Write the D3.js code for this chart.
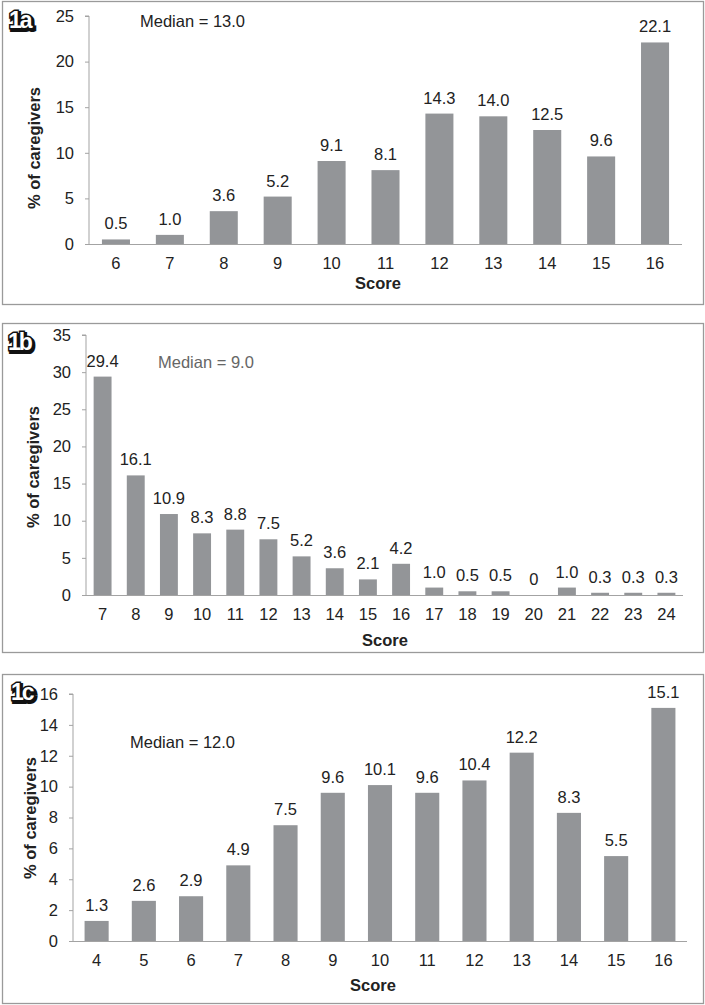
<!DOCTYPE html>
<html>
<head>
<meta charset="utf-8">
<script src="https://cdn.jsdelivr.net/npm/d3@7"></script>
<style>
  html, body { margin: 0; padding: 0; background: #fff; }
  svg { display: block; }
  text { font-family: "Liberation Sans", Arial, sans-serif; }
</style>
</head>
<body>
<svg id="chart" width="705" height="1005"></svg>
<script>
// ---- Data ----
const scoresA = [6, 7, 8, 9, 10, 11, 12, 13, 14, 15, 16];
const valuesA = [0.5, 1.0, 3.6, 5.2, 9.1, 8.1, 14.3, 14.0, 12.5, 9.6, 22.1];
const ticksA = [0, 5, 10, 15, 20, 25];
const medianA = "Median = 13.0";

const scoresB = [7, 8, 9, 10, 11, 12, 13, 14, 15, 16, 17, 18, 19, 20, 21, 22, 23, 24];
const valuesB = [29.4, 16.1, 10.9, 8.3, 8.8, 7.5, 5.2, 3.6, 2.1, 4.2, 1.0, 0.5, 0.5, 0, 1.0, 0.3, 0.3, 0.3];
const ticksB = [0, 5, 10, 15, 20, 25, 30, 35];
const medianB = "Median = 9.0";

const scoresC = [4, 5, 6, 7, 8, 9, 10, 11, 12, 13, 14, 15, 16];
const valuesC = [1.3, 2.6, 2.9, 4.9, 7.5, 9.6, 10.1, 9.6, 10.4, 12.2, 8.3, 5.5, 15.1];
const ticksC = [0, 2, 4, 6, 8, 10, 12, 14, 16];
const medianC = "Median = 12.0";

const yTitle = "% of caregivers";
const xTitle = "Score";

// ---- Layout (positions/styles) ----
const panels = [
  { label: "1a", scores: scoresA, values: valuesA, ticks: ticksA, median: medianA,
    box: [2, 1, 701, 303], x0: 89, x1: 682, yTop: 16, yBot: 244, pad: 0.48,
    medX: 140, medY: 27, medColor: "#222", labX: 9, labY: 28,
    yTitleX: 40, yTitleY: 148, xTitleX: 378, xTitleDy: 45 },
  { label: "1b", scores: scoresB, values: valuesB, ticks: ticksB, median: medianB,
    box: [2, 323, 701, 329], x0: 86, x1: 683, yTop: 335, yBot: 595, pad: 0.46,
    medX: 158, medY: 368, medColor: "#666", labX: 8, labY: 350,
    yTitleX: 39, yTitleY: 467, xTitleX: 385, xTitleDy: 51 },
  { label: "1c", scores: scoresC, values: valuesC, ticks: ticksC, median: medianC,
    box: [2, 674, 701, 329], x0: 73, x1: 687, yTop: 694, yBot: 941, pad: 0.49,
    medX: 130, medY: 748, medColor: "#222", labX: 11, labY: 700,
    yTitleX: 36, yTitleY: 818, xTitleX: 373, xTitleDy: 50 }
];

const svg = d3.select("#chart");
const barColor = "#939598";
const axisColor = "#a3a3a3";
const fs = 16.5;

panels.forEach(p => {
  const g = svg.append("g");
  // border
  g.append("rect")
    .attr("x", p.box[0] + 0.5).attr("y", p.box[1] + 0.5)
    .attr("width", p.box[2]).attr("height", p.box[3])
    .attr("fill", "none").attr("stroke", "#9a9a9a").attr("stroke-width", 1.3);

  const x = d3.scaleBand().domain(p.scores).range([p.x0, p.x1])
    .paddingInner(p.pad).paddingOuter(p.pad / 2);
  const y = d3.scaleLinear().domain([0, d3.max(p.ticks)]).range([p.yBot, p.yTop]);

  // y axis
  const ya = g.append("g").attr("transform", `translate(${p.x0},0)`)
    .call(d3.axisLeft(y).tickValues(p.ticks).tickSize(4).tickPadding(11).tickFormat(d3.format("d")));
  ya.select(".domain").attr("stroke", axisColor).attr("d", `M-4,${y(d3.max(p.ticks))}H0V${p.yBot}`);
  ya.selectAll(".tick line").attr("stroke", axisColor);
  ya.selectAll(".tick text").attr("font-size", fs).attr("fill", "#222")
    .attr("font-family", "Liberation Sans, Arial, sans-serif");

  // bars
  g.selectAll("rect.bar").data(p.scores.map((s, i) => ({ s, v: p.values[i] })))
    .enter().append("rect").attr("class", "bar")
    .attr("x", d => x(d.s)).attr("width", x.bandwidth())
    .attr("y", d => y(d.v)).attr("height", d => y(0) - y(d.v))
    .attr("fill", barColor);

  // x axis
  const xa = g.append("g").attr("transform", `translate(0,${p.yBot})`)
    .call(d3.axisBottom(x).tickSize(0).tickPadding(13));
  xa.select(".domain").attr("stroke", axisColor).attr("d", `M${p.x0},0.5H${p.x1}`);
  xa.selectAll(".tick text").attr("font-size", fs).attr("fill", "#222")
    .attr("font-family", "Liberation Sans, Arial, sans-serif");

  // value labels
  g.selectAll("text.val").data(p.scores.map((s, i) => ({ s, v: p.values[i] })))
    .enter().append("text").attr("class", "val")
    .attr("x", d => x(d.s) + x.bandwidth() / 2)
    .attr("y", d => y(d.v) - 10)
    .attr("text-anchor", "middle").attr("font-size", fs).attr("fill", "#222")
    .text(d => d.v === 0 ? "0" : d.v.toFixed(1));

  // median
  g.append("text").attr("x", p.medX).attr("y", p.medY)
    .attr("font-size", fs).attr("fill", p.medColor).text(p.median);

  // axis titles
  g.append("text")
    .attr("transform", `translate(${p.yTitleX},${p.yTitleY}) rotate(-90)`)
    .attr("text-anchor", "middle").attr("font-size", fs).attr("font-weight", "bold")
    .attr("fill", "#222").text(yTitle);
  g.append("text").attr("x", p.xTitleX).attr("y", p.yBot + p.xTitleDy)
    .attr("text-anchor", "middle").attr("font-size", fs).attr("font-weight", "bold")
    .attr("fill", "#222").text(xTitle);

  // panel label (outlined)
  g.append("text").attr("x", p.labX + 1.5).attr("y", p.labY + 1.5)
    .attr("font-family", "DejaVu Sans, sans-serif").attr("font-weight", "bold")
    .attr("font-size", 23).attr("letter-spacing", -2)
    .attr("fill", "#111").attr("stroke", "#111").attr("stroke-width", 4)
    .text(p.label);
  g.append("text").attr("x", p.labX).attr("y", p.labY)
    .attr("font-family", "DejaVu Sans, sans-serif").attr("font-weight", "bold")
    .attr("font-size", 23).attr("letter-spacing", -2)
    .attr("fill", "#fff").attr("stroke", "#111").attr("stroke-width", 3)
    .attr("paint-order", "stroke").text(p.label);
});
</script>
</body>
</html>
